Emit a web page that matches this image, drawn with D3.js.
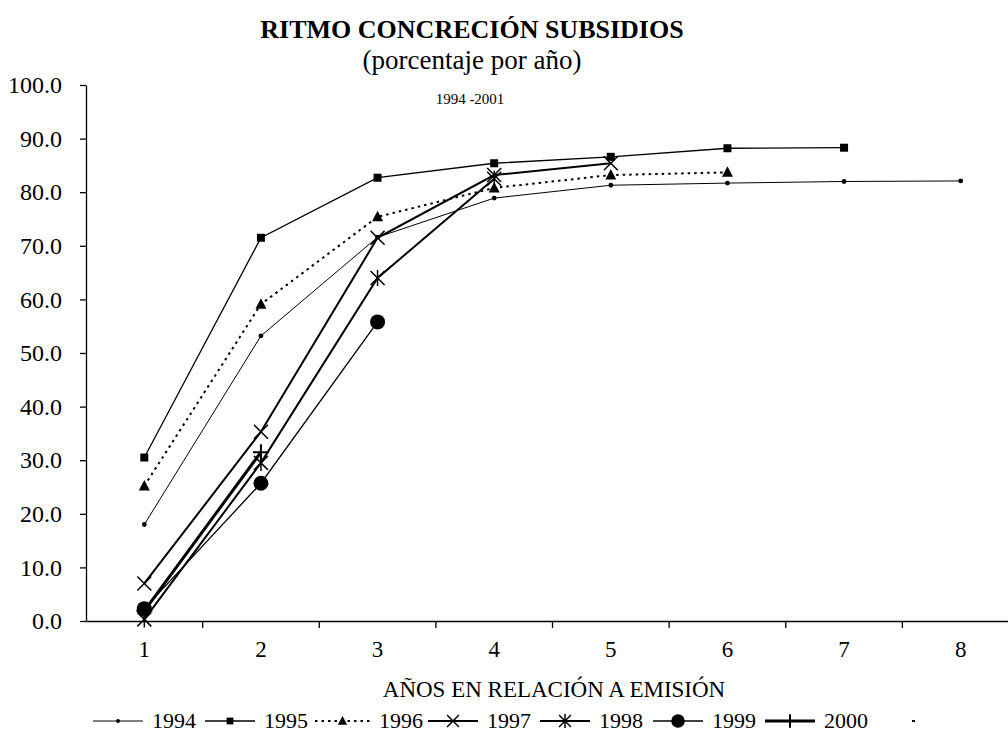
<!DOCTYPE html>
<html>
<head>
<meta charset="utf-8">
<script src="https://cdn.jsdelivr.net/npm/d3@7"></script>
<style>
  body { margin: 0; background: #fff; }
  svg text { font-family: "Liberation Serif", "DejaVu Serif", serif; }
</style>
</head>
<body>
<div id="chart"></div>
<script>
// svg size
var svgWidth = 1008;
var svgHeight = 732;
var fontSerif = "'Liberation Serif', 'DejaVu Serif', serif";

// data
var categories = [1, 2, 3, 4, 5, 6, 7, 8];
var seriesNames = ["1994", "1995", "1996", "1997", "1998", "1999", "2000"];
var s1994 = [18.0, 53.2, 71.6, 78.9, 81.3, 81.7, 82.0, 82.1];
var s1995 = [30.5, 71.5, 82.7, 85.4, 86.6, 88.2, 88.3];
var s1996 = [25.2, 59.1, 75.4, 80.8, 83.2, 83.7];
var s1997 = [7.0, 35.3, 71.5, 83.2, 85.4];
var s1998 = [0.3, 29.5, 64.0, 82.5];
var s1999 = [2.3, 25.7, 55.8];
var s2000 = [1.9, 31.5];
var yTicks = [0, 10, 20, 30, 40, 50, 60, 70, 80, 90, 100];

var seriesValues = [s1994, s1995, s1996, s1997, s1998, s1999, s2000];

// style per series
var styles = [
  { width: 1, dash: null, marker: "dot" },
  { width: 1.3, dash: null, marker: "square" },
  { width: 2, dash: "2.5,4", marker: "triangle" },
  { width: 2, dash: null, marker: "x" },
  { width: 2, dash: null, marker: "star" },
  { width: 1.3, dash: null, marker: "circle" },
  { width: 3, dash: null, marker: "plus" }
];

var margin = { top: 85, left: 86, right: -11, bottom: 111 };
var chartBottom = svgHeight - margin.bottom;

var svg = d3.select("#chart")
  .append("svg")
  .attr("width", svgWidth)
  .attr("height", svgHeight)
  .attr("font-family", fontSerif);

var xScale = d3.scaleBand()
  .domain(categories)
  .range([margin.left, svgWidth - margin.right]);

var yScale = d3.scaleLinear()
  .domain([0, 100])
  .range([chartBottom, margin.top]);

// titles
svg.append("text")
  .attr("x", 472).attr("y", 38)
  .attr("text-anchor", "middle")
  .attr("font-family", fontSerif)
  .attr("font-size", "26px").attr("font-weight", "bold")
  .text("RITMO CONCRECIÓN SUBSIDIOS");

svg.append("text")
  .attr("x", 472).attr("y", 69)
  .attr("text-anchor", "middle")
  .attr("font-family", fontSerif)
  .attr("font-size", "27px")
  .text("(porcentaje por año)");

svg.append("text")
  .attr("x", 470).attr("y", 104)
  .attr("text-anchor", "middle")
  .attr("font-family", fontSerif)
  .attr("font-size", "15px")
  .text("1994 -2001");

// y axis
var leftAxis = d3.axisLeft(yScale)
  .tickValues(yTicks)
  .tickFormat(d3.format(".1f"))
  .tickSize(6)
  .tickSizeOuter(0)
  .tickPadding(18);

var yAxis = svg.append("g")
  .attr("transform", `translate(${margin.left},0)`)
  .call(leftAxis);
yAxis.attr("font-family", fontSerif);
yAxis.selectAll("text").attr("font-size", "24px").attr("fill", "#000").attr("font-family", fontSerif);
yAxis.selectAll("line, path").attr("stroke", "#000").attr("stroke-width", 1.3);

// x axis (labels centred in bands, ticks at band edges)
var bottomAxis = d3.axisBottom(xScale).tickSize(0).tickPadding(20);
var xAxis = svg.append("g")
  .attr("transform", `translate(0,${chartBottom})`)
  .call(bottomAxis);
xAxis.attr("font-family", fontSerif);
xAxis.select("path").attr("stroke", "#000").attr("stroke-width", 1.3);
xAxis.selectAll("text").attr("font-size", "23px").attr("fill", "#000").attr("font-family", fontSerif);

xAxis.selectAll("line.edge")
  .data(categories.slice(1))
  .enter()
  .append("line")
  .attr("class", "edge")
  .attr("x1", d => xScale(d)).attr("x2", d => xScale(d))
  .attr("y1", 0).attr("y2", 7)
  .attr("stroke", "#000").attr("stroke-width", 1.3);

svg.append("text")
  .attr("x", 554).attr("y", 697)
  .attr("text-anchor", "middle")
  .attr("font-family", fontSerif)
  .attr("font-size", "23px")
  .text("AÑOS EN RELACIÓN A EMISIÓN");

// marker drawing
function drawMarker(g, type, x, y, scale) {
  var s = scale || 1;
  if (type === "dot") {
    g.append("circle").attr("cx", x).attr("cy", y).attr("r", 2.4 * s).attr("fill", "#000");
  } else if (type === "square") {
    g.append("rect").attr("x", x - 4 * s).attr("y", y - 4 * s)
      .attr("width", 8 * s).attr("height", 8 * s).attr("fill", "#000");
  } else if (type === "triangle") {
    g.append("path")
      .attr("d", `M${x},${y - 6 * s}L${x + 5.5 * s},${y + 4.5 * s}L${x - 5.5 * s},${y + 4.5 * s}Z`)
      .attr("fill", "#000");
  } else if (type === "x") {
    var r = 7 * s;
    g.append("path")
      .attr("d", `M${x - r},${y - r}L${x + r},${y + r}M${x - r},${y + r}L${x + r},${y - r}`)
      .attr("stroke", "#000").attr("stroke-width", 1.5).attr("fill", "none");
  } else if (type === "star") {
    var r2 = 7 * s;
    g.append("path")
      .attr("d", `M${x - r2},${y - r2}L${x + r2},${y + r2}M${x - r2},${y + r2}L${x + r2},${y - r2}M${x},${y - r2 - 1}L${x},${y + r2 + 1}`)
      .attr("stroke", "#000").attr("stroke-width", 1.5).attr("fill", "none");
  } else if (type === "circle") {
    g.append("circle").attr("cx", x).attr("cy", y).attr("r", 7.5 * s).attr("fill", "#000");
  } else if (type === "plus") {
    var r3 = 8 * s;
    g.append("path")
      .attr("d", `M${x - r3},${y}L${x + r3},${y}M${x},${y - r3}L${x},${y + r3}`)
      .attr("stroke", "#000").attr("stroke-width", 2).attr("fill", "none");
  }
}

var lineGen = d3.line()
  .x((d, i) => xScale(categories[i]) + xScale.bandwidth() / 2)
  .y(d => yScale(d));

var plot = svg.append("g").attr("id", "series");

seriesValues.forEach(function(vals, si) {
  var st = styles[si];
  var g = plot.append("g");
  g.append("path")
    .attr("d", lineGen(vals))
    .attr("fill", "none")
    .attr("stroke", "#000")
    .attr("stroke-width", st.width)
    .attr("stroke-dasharray", st.dash);
  vals.forEach(function(v, i) {
    drawMarker(g, st.marker, xScale(categories[i]) + xScale.bandwidth() / 2, yScale(v));
  });
});

// legend
var legendX = [93, 205, 315, 428, 540, 653, 765];
var sampleW = [50, 50, 55, 50, 50, 50, 50];
var legendY = 721;
var legend = svg.append("g").attr("id", "legend");
seriesNames.forEach(function(name, i) {
  var st = styles[i];
  var x0 = legendX[i];
  legend.append("line")
    .attr("x1", x0).attr("x2", x0 + sampleW[i])
    .attr("y1", legendY).attr("y2", legendY)
    .attr("stroke", "#000")
    .attr("stroke-width", st.width)
    .attr("stroke-dasharray", st.dash);
  drawMarker(legend, st.marker, x0 + sampleW[i] / 2, legendY, st.marker === "circle" ? 0.9 : 0.85);
  legend.append("text")
    .attr("x", x0 + sampleW[i] + 9)
    .attr("y", legendY + 7)
    .attr("font-family", fontSerif)
    .attr("font-size", "22px")
    .text(name);
});
legend.append("rect")
  .attr("x", 912).attr("y", legendY - 1).attr("width", 3).attr("height", 2)
  .attr("fill", "#000");
</script>
</body>
</html>
